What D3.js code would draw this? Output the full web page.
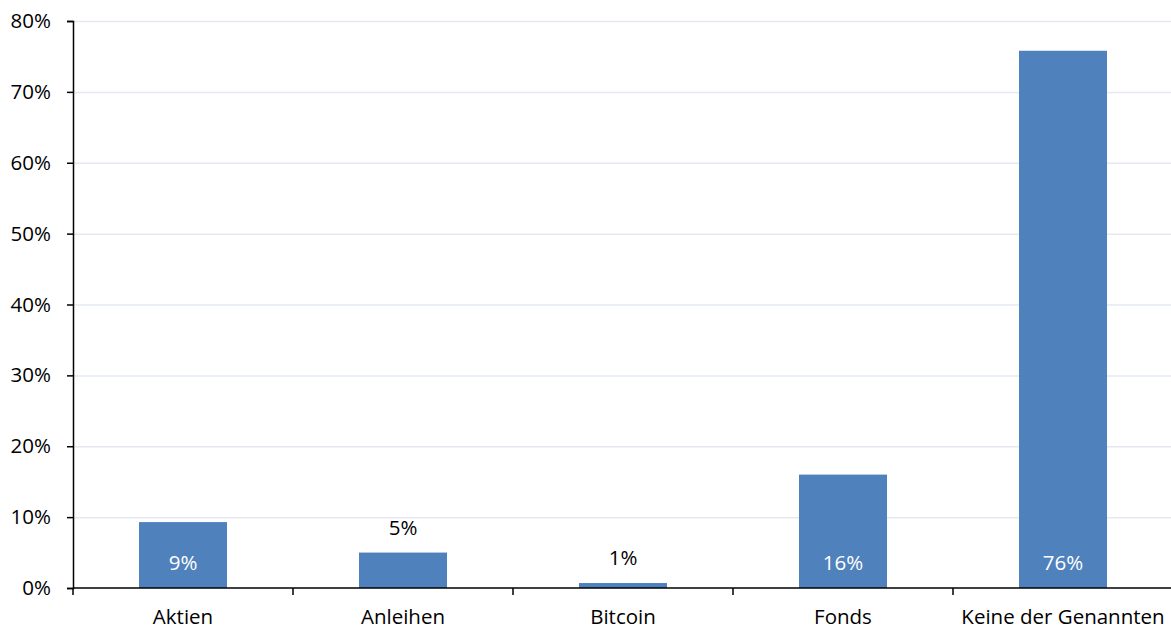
<!DOCTYPE html>
<html>
<head>
<meta charset="utf-8">
<script src="https://cdn.jsdelivr.net/npm/d3@7"></script>
<style>
  body { margin: 0; background: #fff; }
  text { font-family: "Open Sans", "Noto Sans", sans-serif; }
</style>
</head>
<body>
<div id="viz"></div>
<script>
var categories = ["Aktien", "Anleihen", "Bitcoin", "Fonds", "Keine der Genannten"];
var values = [9.3, 5.0, 0.7, 16.0, 75.8];
var labels = ["9%", "5%", "1%", "16%", "76%"];
var labelInside = [true, false, false, true, true];
var yTicks = [0, 10, 20, 30, 40, 50, 60, 70, 80];

var width = 1171,
    height = 630,
    plotLeft = 73,
    plotTop = 21,
    plotBottom = 588,
    plotRight = 1173,
    fontSize = 20.5;

var svg = d3.select("#viz").append("svg")
    .attr("width", width)
    .attr("height", height);

var x = d3.scaleBand()
    .domain(categories)
    .range([plotLeft, plotRight])
    .paddingInner(0.6)
    .paddingOuter(0.3);

var y = d3.scaleLinear()
    .domain([0, 80])
    .range([plotBottom, plotTop]);

// gridlines
svg.append("g").selectAll("line")
    .data(yTicks.slice(1))
  .enter().append("line")
    .attr("x1", plotLeft)
    .attr("x2", width)
    .attr("y1", function(d) { return y(d) + 0.5; })
    .attr("y2", function(d) { return y(d) + 0.5; })
    .attr("stroke", "#e3e8f3")
    .attr("stroke-width", 1.5);

// bars
svg.append("g").selectAll("rect")
    .data(values)
  .enter().append("rect")
    .attr("x", function(d, i) { return x(categories[i]); })
    .attr("width", x.bandwidth())
    .attr("y", function(d) { return y(d); })
    .attr("height", function(d) { return y(0) - y(d); })
    .attr("fill", "#4f81bd");

// y axis
var yAxis = svg.append("g")
    .attr("transform", "translate(" + plotLeft + ",0)")
    .call(d3.axisLeft(y).tickValues(yTicks).tickSize(6).tickPadding(16)
      .tickFormat(function(d) { return d + "%"; }));
yAxis.select(".domain").attr("stroke", "#000").attr("stroke-width", 1.5);
yAxis.selectAll(".tick line").attr("stroke", "#000").attr("stroke-width", 1.5);
yAxis.selectAll("text").attr("font-size", fontSize).attr("fill", "#000")
    .style("font-family", "'Open Sans', sans-serif");

// x axis with ticks at band boundaries
var boundaries = d3.range(categories.length + 1).map(function(i) {
  return plotLeft + i * (plotRight - plotLeft) / categories.length;
});
var xAxis = svg.append("g");
xAxis.append("line")
    .attr("x1", plotLeft).attr("x2", width)
    .attr("y1", plotBottom).attr("y2", plotBottom)
    .attr("stroke", "#000").attr("stroke-width", 1.5);
xAxis.selectAll(".bt")
    .data(boundaries)
  .enter().append("line")
    .attr("class", "bt")
    .attr("x1", function(d) { return d; })
    .attr("x2", function(d) { return d; })
    .attr("y1", plotBottom)
    .attr("y2", plotBottom + 7)
    .attr("stroke", "#000").attr("stroke-width", 1.5);
xAxis.selectAll("text")
    .data(categories)
  .enter().append("text")
    .attr("x", function(d) { return x(d) + x.bandwidth() / 2; })
    .attr("y", plotBottom + 36)
    .attr("text-anchor", "middle")
    .attr("font-size", fontSize)
    .attr("fill", "#000")
    .text(function(d) { return d; });

// data labels
svg.append("g").selectAll("text")
    .data(values)
  .enter().append("text")
    .attr("x", function(d, i) { return x(categories[i]) + x.bandwidth() / 2; })
    .attr("y", function(d, i) { return labelInside[i] ? plotBottom - 18 : y(d) - 18; })
    .attr("text-anchor", "middle")
    .attr("font-size", fontSize)
    .attr("fill", function(d, i) { return labelInside[i] ? "#fff" : "#000"; })
    .text(function(d, i) { return labels[i]; });
</script>
</body>
</html>
